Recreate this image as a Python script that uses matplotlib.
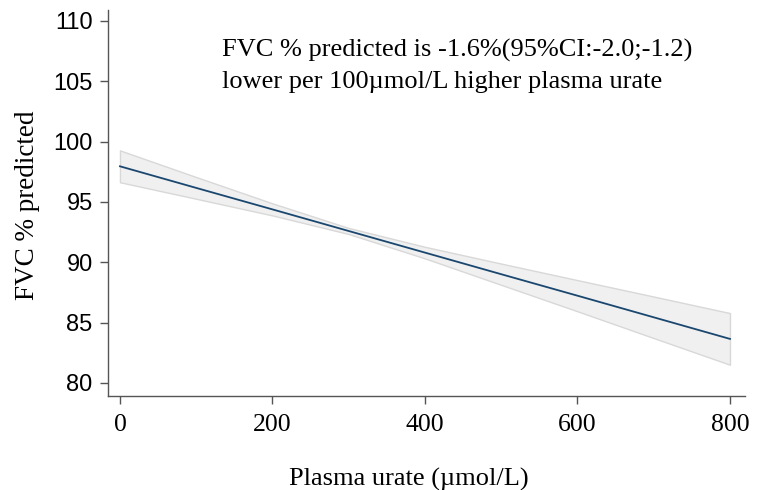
import matplotlib
matplotlib.use("Agg")
import matplotlib.pyplot as plt

# ── Data ─────────────────────────────────────────────────────────────────────
urate = [0, 100, 200, 300, 400, 500, 600, 700, 800]
fvc_fit = [97.95, 96.16, 94.38, 92.59, 90.80, 89.01, 87.23, 85.44, 83.65]
ci_upper = [99.27, 97.06, 94.88, 92.84, 91.28, 89.89, 88.52, 87.16, 85.79]
ci_lower = [96.63, 95.26, 93.88, 92.34, 90.32, 88.13, 85.94, 83.72, 81.51]

x_ticks = [0, 200, 400, 600, 800]
y_ticks = [80, 85, 90, 95, 100, 105, 110]

note_lines = ["FVC % predicted is -1.6%(95%CI:-2.0;-1.2)",
              "lower per 100\u00b5mol/L higher plasma urate"]

SERIF = ["Liberation Serif", "DejaVu Serif"]
SANS = ["Liberation Sans", "DejaVu Sans"]

fig = plt.figure(figsize=(7.76, 4.90), dpi=100)
ax = fig.add_axes([108 / 776, 1 - 396 / 490, (745 - 108) / 776, (396 - 10) / 490])

ax.fill_between(urate, ci_lower, ci_upper, facecolor="#f0f0f0",
                edgecolor="#d8d8d8", linewidth=1.0)
ax.plot(urate, fvc_fit, color="#1a476f", linewidth=1.3)

ax.set_xlim(-15.7, 819.7)
ax.set_ylim(78.92, 110.9)
ax.set_xticks(x_ticks)
ax.set_yticks(y_ticks)
ax.set_xticklabels([str(v) for v in x_ticks], family=SERIF, fontsize=18.5)
ax.set_yticklabels([str(v) for v in y_ticks], family=SANS, fontsize=17)
ax.tick_params(axis="both", color="#555555", length=5.5, width=1.0)
ax.tick_params(axis="x", pad=7.5)
ax.tick_params(axis="y", pad=5.5)

for side in ("top", "right"):
    ax.spines[side].set_visible(False)
for side in ("left", "bottom"):
    ax.spines[side].set_color("#555555")
    ax.spines[side].set_linewidth(1.0)

ax.set_ylabel("FVC % predicted", family=SERIF, fontsize=19.5)
ax.yaxis.label.set_va("center")
ax.yaxis.set_label_coords(-0.127, 0.4935)
ax.set_xlabel("Plasma urate (\u00b5mol/L)", family=SERIF, fontsize=19)
ax.xaxis.label.set_va("center")
ax.xaxis.set_label_coords(0.472, -0.215)

ax.text(134, 107.02, note_lines[0], family=SERIF, fontsize=19,
        va="baseline", ha="left")
ax.text(134, 104.45, note_lines[1], family=SERIF, fontsize=19,
        va="baseline", ha="left")

fig.savefig("out.png", dpi=100)
